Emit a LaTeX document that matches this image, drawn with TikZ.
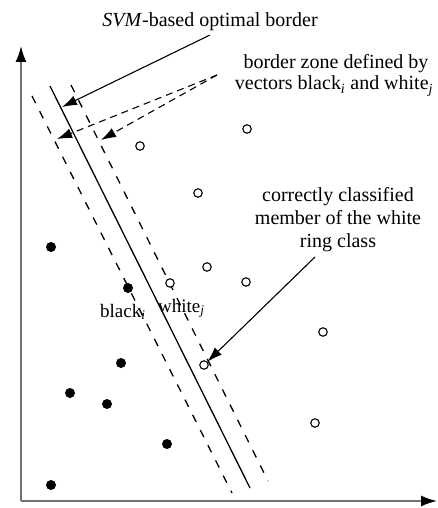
\documentclass[tikz,border=0pt]{standalone}
\usepackage{fontspec}
\setmainfont{Liberation Serif}
\usetikzlibrary{arrows.meta}
\begin{document}
\begin{tikzpicture}[x=1pt,y=-1pt,
  lbl/.style={font=\fontsize{20}{23}\selectfont, inner sep=0pt, anchor=base},
  lblw/.style={font=\fontsize{19}{22}\selectfont, inner sep=0pt, anchor=base west},
  ring/.style={circle, draw=black, line width=1.1pt, fill=white, minimum size=8.5pt, inner sep=0pt},
  dot/.style={circle, fill=black, minimum size=10pt, inner sep=0pt},
  axis/.style={draw=black!55, line width=1.8pt, -{Latex[length=16pt,width=11pt,black]}},
  pointer/.style={line width=1.1pt, -{Latex[length=15pt,width=10pt]}},
  zone/.style={line width=1.3pt, dash pattern=on 8pt off 9pt},
  zonearrow/.style={line width=1.1pt, dash pattern=on 7pt off 5pt, -{Latex[length=15pt,width=10pt]}},
]
\useasboundingbox (0,0) rectangle (438,508);

% axes
\coordinate (O) at (21,501);
\coordinate (ytip) at (21,46);
\coordinate (xtip) at (437,501);
\draw[axis] (O) -- (ytip);
\draw[axis] (O) -- (xtip);

% border lines
\coordinate (s1) at (50,86);   \coordinate (s2) at (250,488);
\coordinate (l1) at (32,96);   \coordinate (l2) at (232,493);
\coordinate (r1) at (71,85);   \coordinate (r2) at (268,481);
\draw[line width=1.3pt] (s1) -- (s2);
\draw[zone] (l1) -- (l2);
\draw[zone] (r1) -- (r2);

% labels
\node[lbl] (svm) at (210,27) {\textit{SVM}-based optimal border};
\node[lbl] (bz1) at (336,69) {border zone defined by};
\node[lbl] (bz2) at (334,90) {vectors black\textsubscript{\textit{i}} and white\textsubscript{\textit{j}}};
\node[lbl] (cc1) at (338,201) {correctly classified};
\node[lbl] (cc2) at (338,224) {member of the white};
\node[lbl] (cc3) at (338,247) {ring class};
\node[lblw] (bl) at (100,317) {black\textsubscript{\textit{i}}};
\node[lblw] (wh) at (158,312) {white\textsubscript{\textit{j}}};

% white rings
\node[ring] (w1) at (140,146) {};
\node[ring] (w2) at (247,129) {};
\node[ring] (w3) at (198,193) {};
\node[ring] (w4) at (207,267) {};
\node[ring] (w5) at (170,283) {};
\node[ring] (w6) at (246,282) {};
\node[ring] (w7) at (323,332) {};
\node[ring] (w8) at (204,365) {};
\node[ring] (w9) at (315,423) {};

% black dots
\node[dot] (b1) at (51,247) {};
\node[dot] (b2) at (128,288) {};
\node[dot] (b3) at (121,363) {};
\node[dot] (b4) at (70,393) {};
\node[dot] (b5) at (107,404) {};
\node[dot] (b6) at (167,444) {};
\node[dot] (b7) at (51,485) {};

% pointers
\coordinate (svmfrom) at (210,35);
\coordinate (svmto) at (62,107);
\draw[pointer] (svmfrom) -- (svmto);

\coordinate (zfrom) at (217,75);
\coordinate (zto1) at (57,139);
\coordinate (zto2) at (101,140);
\draw[zonearrow] (zfrom) -- (zto1);
\draw[zonearrow] (zfrom) -- (zto2);

\coordinate (ccfrom) at (315,257);
\draw[pointer] (ccfrom) -- (w8);
\end{tikzpicture}
\end{document}
